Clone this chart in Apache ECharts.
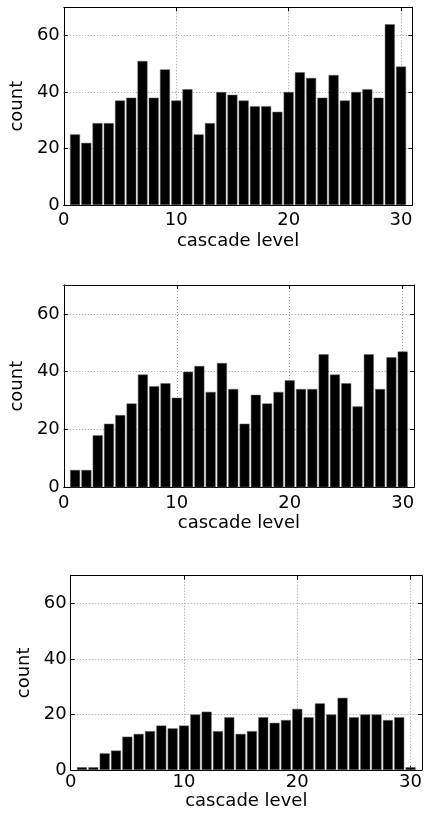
<!DOCTYPE html>
<html>
<head>
<meta charset="utf-8">
<script src="https://cdn.jsdelivr.net/npm/echarts@6/dist/echarts.min.js"></script>
<style>
html,body{margin:0;padding:0;background:#fff;}
#chart{width:425px;height:813px;}
</style>
</head>
<body>
<div id="chart"></div>
<script>
// ---- data ----
const levels = [1,2,3,4,5,6,7,8,9,10,11,12,13,14,15,16,17,18,19,20,21,22,23,24,25,26,27,28,29,30];
const countsTop = [25,22,29,29,37,38,51,38,48,37,41,25,29,40,39,37,35,35,33,40,47,45,38,46,37,40,41,38,64,49];
const countsMiddle = [6,6,18,22,25,29,39,35,36,31,40,42,33,43,34,22,32,29,33,37,34,34,46,39,36,28,46,34,45,47];
const countsBottom = [1,1,6,7,12,13,14,16,15,16,20,21,14,19,13,14,19,17,18,22,19,24,20,26,19,20,20,18,19,1];
const xTickLabels = [0,10,20,30];
const yTickLabels = [0,20,40,60];
const xName = 'cascade level';
const yName = 'count';

// ---- layout ----
const panels = [
  {data: countsTop,    left: 57.7, top: 7.3,   width: 354.6, height: 197.7, xLabelMargin: 6, xNameGap: 27},
  {data: countsMiddle, left: 60,   top: 285,   width: 354,   height: 202.3, xLabelMargin: 7, xNameGap: 27},
  {data: countsBottom, left: 70.7, top: 575.7, width: 352,   height: 194.3, xLabelMargin: 3, xNameGap: 21}
];
const FONT = 'DejaVu Sans';
const FS = 18;
const gridLine = {show: true, lineStyle: {color: '#999', type: [1, 2], width: 1}};
const axisLine = {show: true, onZero: false, lineStyle: {color: '#000', width: 1}};
const tick = {show: true, inside: true, length: 4, lineStyle: {color: '#000', width: 1}};

const grids = [], xAxes = [], yAxes = [], series = [];
panels.forEach((p, i) => {
  grids.push({left: p.left, top: p.top, width: p.width, height: p.height, containLabel: false});
  // bottom x axis
  xAxes.push({
    type: 'value', gridIndex: i, position: 'bottom', min: 0, max: 31, interval: 10,
    name: xName, nameLocation: 'middle', nameGap: p.xNameGap,
    nameTextStyle: {fontFamily: FONT, fontSize: FS, color: '#000'},
    axisLine: axisLine, axisTick: tick, splitLine: gridLine,
    axisLabel: {show: true, margin: p.xLabelMargin, fontFamily: FONT, fontSize: FS, color: '#000',
      showMaxLabel: false, formatter: v => xTickLabels.indexOf(v) >= 0 ? String(v) : ''}
  });
  // top x axis (box)
  xAxes.push({
    type: 'value', gridIndex: i, position: 'top', min: 0, max: 31, interval: 10,
    axisLine: axisLine, axisTick: tick, splitLine: {show: false}, axisLabel: {show: false}
  });
  // left y axis
  yAxes.push({
    type: 'value', gridIndex: i, position: 'left', min: 0, max: 70, interval: 20,
    name: yName, nameLocation: 'middle', nameGap: 33, nameRotate: 90,
    nameTextStyle: {fontFamily: FONT, fontSize: FS, color: '#000'},
    axisLine: axisLine, axisTick: tick, splitLine: gridLine,
    axisLabel: {show: true, margin: 4, fontFamily: FONT, fontSize: FS, color: '#000',
      showMaxLabel: false, formatter: v => yTickLabels.indexOf(v) >= 0 ? String(v) : ''}
  });
  // right y axis (box)
  yAxes.push({
    type: 'value', gridIndex: i, position: 'right', min: 0, max: 70, interval: 20,
    axisLine: axisLine, axisTick: tick, splitLine: {show: false}, axisLabel: {show: false}
  });
  series.push({
    type: 'bar', xAxisIndex: 2 * i, yAxisIndex: 2 * i,
    data: levels.map((l, k) => [l, p.data[k]]),
    barWidth: 10,
    itemStyle: {color: '#000', borderColor: '#666', borderWidth: 0.5},
    silent: true, animation: false
  });
});

const chart = echarts.init(document.getElementById('chart'), null, {renderer: 'canvas'});
chart.setOption({
  animation: false,
  backgroundColor: '#fff',
  grid: grids, xAxis: xAxes, yAxis: yAxes, series: series
});
</script>
</body>
</html>
